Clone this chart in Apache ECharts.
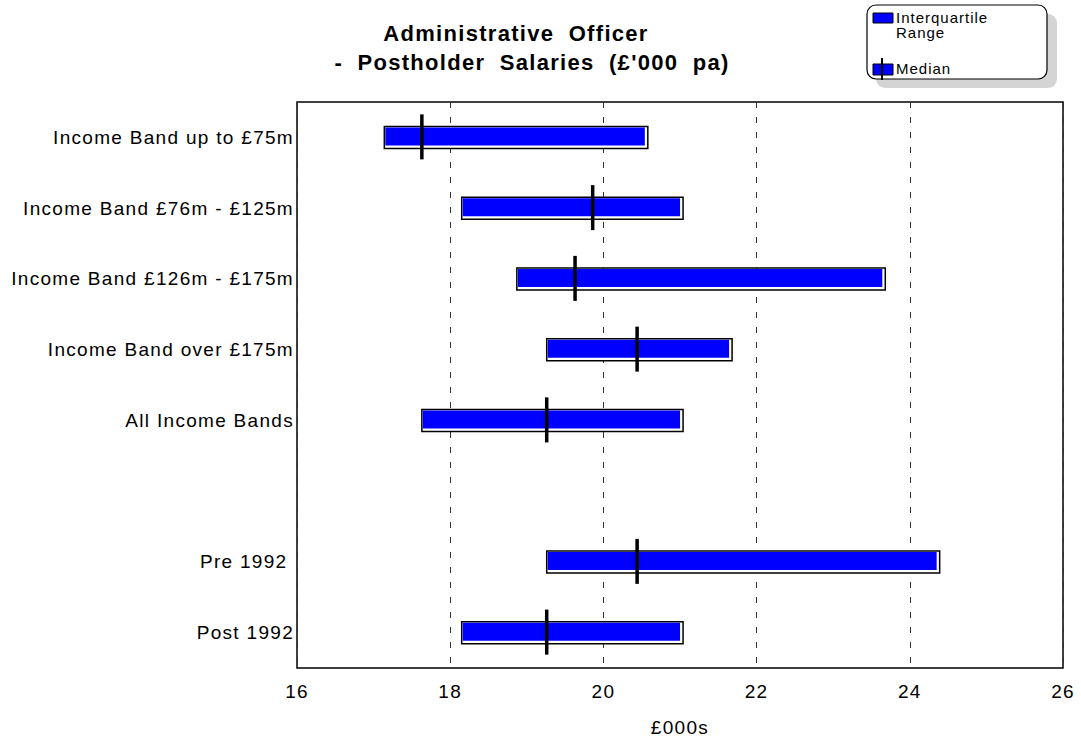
<!DOCTYPE html>
<html>
<head>
<meta charset="utf-8">
<script src="https://cdn.jsdelivr.net/npm/echarts@6/dist/echarts.min.js"></script>
<style>
  html, body { margin: 0; padding: 0; background: #fff; }
  #chart { width: 1081px; height: 742px; }
  /* the typeface in this chart is set loosely tracked */
  #chart text { letter-spacing: 1.3px; }
  #chart text[style*="bold"] { letter-spacing: 1.3px; word-spacing: 7px; }
  #chart text[style*="15px"] { letter-spacing: 1px; }
</style>
</head>
<body>
<div id="chart"></div>
<script>
// Salary bands (£'000 pa): lower quartile, upper quartile and median per group
const categories = [
  'Income Band up to £75m',
  'Income Band £76m - £125m',
  'Income Band £126m - £175m',
  'Income Band over £175m',
  'All Income Bands',
  '',
  'Pre 1992 ',
  'Post 1992'
];
const lowerQuartile = [17.14, 18.15, 18.87, 19.26, 17.63, null, 19.26, 18.15];
const upperQuartile = [20.58, 21.04, 23.68, 21.68, 21.04, null, 24.39, 21.04];
const medians       = [17.63, 19.86, 19.63, 20.44, 19.26, null, 20.44, 19.26];
const xTicks = [16, 18, 20, 22, 24, 26];

const FONT = '"Liberation Sans", Arial, sans-serif';

const rangeData = [];
const medianData = [];
categories.forEach((c, i) => {
  if (lowerQuartile[i] != null) {
    rangeData.push([lowerQuartile[i], upperQuartile[i], i]);
    medianData.push([medians[i], i]);
  }
});

const chart = echarts.init(document.getElementById('chart'), null, { renderer: 'svg' });

const titleStyle = { fontFamily: FONT, fontSize: 22, fontWeight: 'bold', color: '#000' };

chart.setOption({
  animation: false,
  backgroundColor: '#fff',
  title: [
    { text: 'Administrative Officer', left: 516, top: 22, textAlign: 'center',
      padding: 0, textStyle: titleStyle },
    { text: '- Postholder Salaries (£\'000 pa)', left: 532, top: 51, textAlign: 'center',
      padding: 0, textStyle: titleStyle }
  ],
  grid: { left: 297, right: 18, top: 102, bottom: 72, containLabel: false,
          show: true, borderColor: '#000', borderWidth: 1.5, backgroundColor: 'transparent' },
  xAxis: {
    type: 'value',
    min: xTicks[0],
    max: xTicks[xTicks.length - 1],
    interval: 2,
    name: '£000s',
    nameLocation: 'middle',
    nameGap: 50,
    nameTextStyle: { fontFamily: FONT, fontSize: 19, color: '#000', verticalAlign: 'top' },
    axisLine: { show: false },
    axisTick: { show: false },
    axisLabel: { fontFamily: FONT, fontSize: 19, color: '#000', margin: 14 },
    splitLine: { show: true, lineStyle: { color: '#333', type: [6, 9], width: 1 } }
  },
  yAxis: {
    type: 'category',
    data: categories,
    inverse: true,
    axisLine: { show: false },
    axisTick: { show: false },
    splitLine: { show: false },
    axisLabel: { fontFamily: FONT, fontSize: 19, color: '#000', margin: 3 }
  },
  series: [
    {
      name: 'Interquartile Range',
      type: 'custom',
      encode: { x: [0, 1], y: 2 },
      data: rangeData,
      renderItem: function (params, api) {
        const p0 = api.coord([api.value(0), api.value(2)]);
        const p1 = api.coord([api.value(1), api.value(2)]);
        const h = 22;
        const x0 = p0[0], x1 = p1[0], y0 = p0[1] - h / 2;
        return {
          type: 'group',
          children: [
            { type: 'rect', shape: { x: x0, y: y0, width: x1 - x0, height: h },
              style: { fill: '#fff', stroke: '#000', lineWidth: 1.5 } },
            { type: 'rect', shape: { x: x0 + 1, y: y0 + 1, width: x1 - x0 - 4, height: h - 4 },
              style: { fill: '#0000ff' } }
          ]
        };
      },
      z: 3
    },
    {
      name: 'Median',
      type: 'custom',
      encode: { x: 0, y: 1 },
      data: medianData,
      renderItem: function (params, api) {
        const p = api.coord([api.value(0), api.value(1)]);
        return {
          type: 'line',
          shape: { x1: p[0], y1: p[1] - 23, x2: p[0], y2: p[1] + 22 },
          style: { stroke: '#000', lineWidth: 3.5 }
        };
      },
      z: 4
    }
  ],
  graphic: [
    // legend box with drop shadow
    { type: 'rect', shape: { x: 876, y: 14, width: 181, height: 74, r: 9 },
      style: { fill: '#d4d4d4' }, z: 10 },
    { type: 'rect', shape: { x: 867, y: 5, width: 180, height: 74, r: 9 },
      style: { fill: '#fff', stroke: '#000', lineWidth: 1.2 }, z: 11 },
    { type: 'rect', shape: { x: 873, y: 13, width: 20, height: 10 },
      style: { fill: '#0000ff', stroke: '#000', lineWidth: 1 }, z: 12 },
    { type: 'text', x: 896, y: 10,
      style: { text: 'Interquartile\nRange', fontFamily: FONT, fontSize: 15, lineHeight: 15, fill: '#000' }, z: 12 },
    { type: 'rect', shape: { x: 873, y: 64, width: 20, height: 11 },
      style: { fill: '#0000ff', stroke: '#000', lineWidth: 1 }, z: 12 },
    { type: 'line', shape: { x1: 882, y1: 58, x2: 882, y2: 80 },
      style: { stroke: '#000', lineWidth: 2 }, z: 13 },
    { type: 'text', x: 896, y: 61,
      style: { text: 'Median', fontFamily: FONT, fontSize: 15, fill: '#000' }, z: 12 }
  ]
});
</script>
</body>
</html>
